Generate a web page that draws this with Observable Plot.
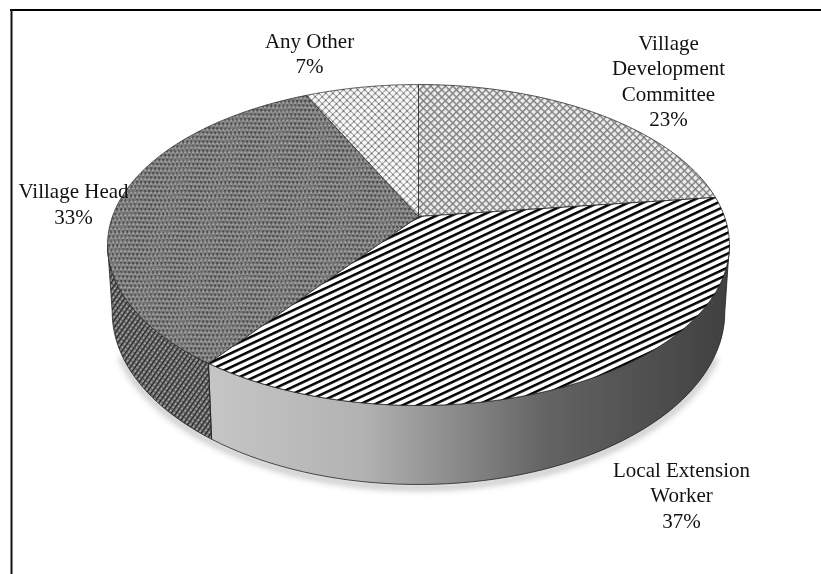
<!DOCTYPE html>
<html>
<head>
<meta charset="utf-8">
<script src="https://cdn.jsdelivr.net/npm/d3@7"></script>
<script src="https://cdn.jsdelivr.net/npm/@observablehq/plot@0.6"></script>
<style>
html,body{margin:0;padding:0;background:#fff;}
svg{display:block;filter:blur(0.35px);}
</style>
</head>
<body>
<div id="chart"></div>
<script>
const categories = ["Village\nDevelopment\nCommittee", "Local Extension\nWorker", "Village Head", "Any Other"];
const shares = [23, 37, 33, 7];

const W = 821, H = 574;
const cx = 418, cy = 216, A = 306, B = 155.4, p = 0.1776, drop = 65, shrink = 0.985;
const labelAnchors = [[668, 79.5], [681, 493.5], [73, 202.5], [309, 52]];
const topFills = ["url(#vdcTop)", "url(#lewTop)", "url(#vhTop)", "url(#aoTop)"];

const topPt = t => {
  const u = Math.sin(t), v = Math.cos(t), w = 1 + p * v;
  return {x: cx + A * u / w, y: cy - B * v / w};
};
const lowPt = t => {
  const u = Math.sin(t), v = Math.cos(t), w = 1 + p * v;
  return {x: cx + shrink * A * u / w, y: cy - B * v / w + drop / w};
};
const arc = (f, a, b, n = 120) => d3.range(n + 1).map(i => f(a + (b - a) * i / n));

const slices = d3.pie().sort(null).value(d => d)(shares);
const topShapes = slices.map(s => [{x: cx, y: cy}, ...arc(topPt, s.startAngle, s.endAngle), {x: cx, y: cy}]);

const silhouetteR = Math.PI - Math.acos(p);
const silhouetteL = Math.PI + Math.acos(p);
const hinge = slices[1].endAngle;

const band = (a, b) => {
  const up = arc(topPt, a, b, 60), low = arc(lowPt, a, b, 60).reverse();
  return [...up, ...low, up[0]];
};

// side stripes wrap round the rim: each runs from the upper rim to the lower rim at a fixed angular lean
const stripeStep = 0.1, stripeLean = 0.5;
const sideStripes = d3.range(silhouetteR - stripeLean, hinge, stripeStep).map((t0, k) =>
  d3.range(11).map(i => {
    const h = i / 10, t = t0 + stripeLean * h, a = topPt(t), b = lowPt(t);
    return {k, x: a.x + (b.x - a.x) * h, y: a.y + (b.y - a.y) * h};
  })
);

const shadow = arc(t => { const q = lowPt(t); return {x: q.x, y: q.y + 3}; }, silhouetteR + 0.25, silhouetteL - 0.25);

const marks = [
  Plot.ruleY([9.5], {x1: 10, x2: W, stroke: "#000", strokeWidth: 2}),
  Plot.ruleX([11], {y1: 9, y2: H, stroke: "#111", strokeWidth: 2}),
  Plot.line(shadow, {x: "x", y: "y", stroke: "#777", strokeWidth: 6, strokeOpacity: 0.45, imageFilter: "blur(3px)"}),
  Plot.line(band(silhouetteR, hinge), {x: "x", y: "y", fill: "#c6c6c6", stroke: "none"}),
  Plot.line(band(silhouetteR, hinge), {x: "x", y: "y", fill: "url(#sideShade)", stroke: "none"}),
  Plot.line(sideStripes.flat(), {x: "x", y: "y", z: "k", stroke: "#000", strokeWidth: 3.8, ariaLabel: "side-stripes"}),
  Plot.line(band(hinge, silhouetteL), {x: "x", y: "y", fill: "url(#vhSide)", stroke: "#222", strokeWidth: 0.8}),
  Plot.line(band(silhouetteR, hinge), {x: "x", y: "y", fill: "none", stroke: "#222", strokeWidth: 0.8}),
  ...topShapes.map((s, i) => Plot.line(s, {x: "x", y: "y", fill: topFills[i], stroke: "#2a2a2a", strokeWidth: 0.8})),
  Plot.line(topShapes[2], {x: "x", y: "y", fill: "url(#vhMoire)", stroke: "none"}),
  Plot.text(categories.map((c, i) => ({t: `${c}\n${shares[i]}%`, x: labelAnchors[i][0], y: labelAnchors[i][1]})), {
    x: "x", y: "y", text: "t", fontFamily: "Liberation Serif", fontSize: 21, lineHeight: 1.21,
    textAnchor: "middle", lineAnchor: "middle", fill: "#111"
  })
];

const plot = Plot.plot({
  width: W, height: H, margin: 0,
  x: {domain: [0, W], range: [0, W], axis: null},
  y: {domain: [0, H], range: [0, H], axis: null},
  style: {background: "#fff"},
  marks
});

const stripes = (id, size, dark, bg, fg, angle) => `
  <pattern id="${id}" patternUnits="userSpaceOnUse" width="20" height="${size}" patternTransform="rotate(${angle})">
    <rect width="20" height="${size}" fill="${bg}"/><rect width="20" height="${dark}" fill="${fg}"/>
  </pattern>`;

const clipD = d3.line().x(d => d.x).y(d => d.y)(band(silhouetteR, hinge));

d3.select(plot).append("defs").html(`
  ${stripes("lewTop", 6.3, 2.5, "#fff", "#000", -25)}
  <clipPath id="sideClip"><path d="${clipD}"/></clipPath>
  <linearGradient id="sideShade" gradientUnits="userSpaceOnUse" x1="205" y1="0" x2="730" y2="0">
    <stop offset="0" stop-color="#000" stop-opacity="0"/>
    <stop offset="0.3" stop-color="#000" stop-opacity="0.1"/>
    <stop offset="0.65" stop-color="#000" stop-opacity="0.5"/>
    <stop offset="1" stop-color="#000" stop-opacity="0.68"/>
  </linearGradient>
  <pattern id="vdcTop" patternUnits="userSpaceOnUse" width="5.2" height="5.2" patternTransform="rotate(45)">
    <rect width="5.2" height="5.2" fill="#ececec"/>
    <rect width="5.2" height="1.4" fill="#808080"/>
    <rect width="1.4" height="5.2" fill="#808080"/>
  </pattern>
  <pattern id="aoTop" patternUnits="userSpaceOnUse" width="5" height="5" patternTransform="rotate(45)">
    <rect width="5" height="5" fill="#f8f8f8"/>
    <rect width="5" height="1" fill="#a0a0a0"/>
    <rect width="1" height="5" fill="#a0a0a0"/>
    <rect width="1.4" height="1.4" fill="#555"/>
  </pattern>
  <pattern id="vhTop" patternUnits="userSpaceOnUse" width="4" height="9">
    <rect width="4" height="9" fill="#7c7c7c"/>
    <rect x="0" y="0" width="1.3" height="3" fill="#2e2e2e"/>
    <rect x="2" y="3" width="1.3" height="1.3" fill="#e8e8e8"/>
    <rect x="2" y="4.5" width="1.3" height="3" fill="#2e2e2e"/>
    <rect x="0" y="7.5" width="1.3" height="1.3" fill="#e8e8e8"/>
  </pattern>
  <pattern id="vhMoire" patternUnits="userSpaceOnUse" width="4.2" height="4.6" patternTransform="rotate(6)">
    <rect width="2.1" height="2.2" fill="#9a9a9a" fill-opacity="0.55"/>
  </pattern>
  <pattern id="vhSide" patternUnits="userSpaceOnUse" width="4" height="4" patternTransform="rotate(-55)">
    <rect width="4" height="4" fill="#6a6a6a"/>
    <rect width="4" height="1.1" fill="#222"/>
    <rect x="1" y="2.2" width="1.6" height="1.2" fill="#d0d0d0"/>
  </pattern>
`);
d3.select(plot).selectAll('g[aria-label="side-stripes"]').attr("clip-path", "url(#sideClip)");
document.getElementById("chart").append(plot);
</script>
</body>
</html>
